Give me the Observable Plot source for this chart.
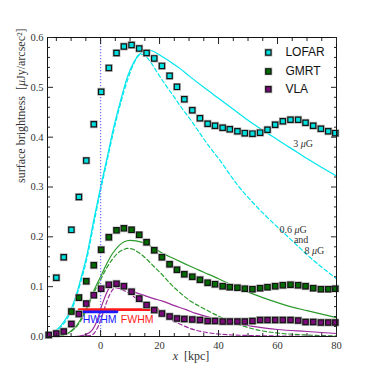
<!DOCTYPE html>
<html><head><meta charset="utf-8">
<script src="https://cdn.jsdelivr.net/npm/d3@7"></script>
<script src="https://cdn.jsdelivr.net/npm/@observablehq/plot@0.6"></script>
<style>body{margin:0;background:#fff} svg{display:block}</style>
</head><body><div id="chart"></div>
<script>
// ---- observed profiles (x in kpc) ----
const obsX = [-17.6,-15.0,-12.5,-9.9,-7.35,-4.85,-2.3,0.2,2.8,5.4,7.9,10.5,13.1,15.6,18.2,20.8,23.4,25.9,28.4,31.1,33.7,36.3,38.8,41.4,43.8,46.4,48.9,51.5,54.1,56.6,59.2,61.8,64.4,67.0,69.5,72.1,74.7,77.2,79.6];
const lofar = [null,0.118,0.159,0.214,0.280,0.353,0.426,0.491,0.539,0.569,0.582,0.585,0.578,0.569,0.558,0.543,0.523,0.501,0.476,0.454,0.438,0.427,0.423,0.419,0.416,0.412,0.408,0.407,0.409,0.415,0.425,0.432,0.435,0.435,0.429,0.423,0.417,0.412,0.408];
const gmrt = [null,null,null,0.050,0.078,0.111,0.143,0.174,0.199,0.213,0.217,0.214,0.204,0.189,0.173,0.159,0.145,0.134,0.125,0.120,0.114,0.108,0.105,0.101,0.099,0.098,0.096,0.095,0.097,0.099,0.101,0.103,0.104,0.103,0.101,0.097,0.095,0.095,0.096];
const vla = [0.003,0.006,0.010,0.025,0.045,0.066,0.083,0.096,0.104,0.106,0.101,0.090,0.076,0.063,0.053,0.046,0.040,0.036,0.035,0.034,0.033,0.031,0.031,0.030,0.030,0.030,0.030,0.031,0.033,0.033,0.033,0.033,0.033,0.032,0.029,0.029,0.028,0.028,0.028];

// ---- model curves ----
const cyanSolidX = [-18,-15.5,-13.6,-11.5,-9.6,-8,-6.8,-4.5,-2.3,0,2.3,4.5,6.8,9.1,11.3,13.5,15.8,18,20.3,24,27.1,30,35,40,45,50,55,60,65,70,75,80];
const cyanSolidY = [0.003,0.011,0.021,0.038,0.061,0.088,0.114,0.167,0.234,0.300,0.361,0.421,0.474,0.521,0.551,0.568,0.575,0.572,0.564,0.550,0.537,0.523,0.500,0.478,0.456,0.434,0.414,0.395,0.376,0.357,0.339,0.322];
const cyanDashX = [-18,-15.5,-13.6,-11.5,-9.6,-6.8,-4.5,-2.3,0,2.3,4.5,6.8,9.1,11.3,13,14.5,16,17.5,19.2,22,24.9,27.1,30.5,34,37,40.7,43.5,46.3,50.8,55,61,65,70.6,75,80];
const cyanDashY = [0.002,0.009,0.018,0.034,0.056,0.108,0.160,0.226,0.293,0.355,0.414,0.468,0.514,0.548,0.565,0.566,0.558,0.546,0.530,0.505,0.481,0.462,0.435,0.405,0.380,0.352,0.328,0.305,0.274,0.248,0.214,0.192,0.161,0.139,0.116];
const greenSolidX = [-14,-12,-10,-8,-6,-4,-2,0,2,4,6,8,10,12,15,18,21,25,30,35,40,45,50,55,60,65,70,75,80];
const greenSolidY = [0.001,0.004,0.011,0.023,0.042,0.068,0.096,0.120,0.145,0.166,0.181,0.190,0.193,0.192,0.187,0.178,0.167,0.156,0.142,0.129,0.116,0.102,0.089,0.078,0.068,0.059,0.052,0.045,0.038];
const greenDashX = [-14,-12,-10,-8,-6,-4,-2,0,2,4,6,8,9,11,13,15.3,18,20.9,24,27.1,30,35,40,45,50,55,60,70,80];
const greenDashY = [0.001,0.004,0.010,0.021,0.039,0.064,0.091,0.114,0.137,0.155,0.168,0.175,0.177,0.175,0.168,0.157,0.141,0.124,0.104,0.087,0.073,0.056,0.041,0.028,0.018,0.011,0.007,0.003,0.001];
const purpleSolidX = [-9,-7,-5,-3,-2,-1,0,1,2,3,4.5,6,8,10,12,15,18,21,25,29,32,36,40,45,51,60,70,80];
const purpleSolidY = [0,0.001,0.004,0.012,0.021,0.035,0.055,0.072,0.087,0.098,0.104,0.104,0.099,0.093,0.088,0.082,0.076,0.071,0.062,0.054,0.047,0.040,0.034,0.027,0.021,0.014,0.010,0.006];
const purpleDashX = [-7,-5,-3,-2,-1,0,1,2,3,4,5,6,8,9.6,12,15.3,18,20.9,23,26.5,30,35,40,50,60,80];
const purpleDashY = [0,0.001,0.003,0.008,0.018,0.033,0.050,0.068,0.083,0.093,0.098,0.097,0.092,0.087,0.077,0.064,0.053,0.043,0.036,0.026,0.017,0.009,0.005,0.002,0.001,0];

// ---- widths ----
const hwhmX = [-7.3, 5.6];
const fwhmX = [-7.3, 19.4];

// ---- ticks / labels ----
const xMajor = [0,20,40,60,80];
const xMinor = [-15,-10,-5,5,10,15,25,30,35,45,50,55,65,70,75];
const yMajor = [0,0.1,0.2,0.3,0.4,0.5,0.6];
const yMinor = [0.02,0.04,0.06,0.08,0.12,0.14,0.16,0.18,0.22,0.24,0.26,0.28,0.32,0.34,0.36,0.38,0.42,0.44,0.46,0.48,0.52,0.54,0.56,0.58];
const seriesNames = ["LOFAR","GMRT","VLA"];

const fillC = {LOFAR:"#00dede", GMRT:"#006c00", VLA:"#7a0a7a"};
const lineC = {LOFAR:"#00e6ee", GMRT:"#2d9a2d", VLA:"#9c2c9c"};
const serif = "'Liberation Serif','DejaVu Serif',serif";
const sans = "'Liberation Sans',Arial,sans-serif";

const pts = (xs, ys) => xs.map((x,i)=>({x, y: ys[i]})).filter(d => d.y != null);
const squares = (data, fill) => [
  Plot.dot(data, {x:"x", y:"y", symbol:"square", r:3.0, fill, stroke:"#b8b8b8", strokeWidth:2.6}),
  Plot.dot(data, {x:"x", y:"y", symbol:"square", r:3.0, fill, stroke:"#151515", strokeWidth:1.2})
];
const curve = (xs, ys, color, dashed) => Plot.line(pts(xs, ys), {x:"x", y:"y", stroke: color, strokeWidth:1.2, curve:"monotone-x", strokeDasharray: dashed ? "4,2.6" : null});

const legend = seriesNames.map((n,i) => ({name:n, x:56.9, y:[0.57,0.532,0.496][i]}));

const chart = Plot.plot({
  width:374, height:374,
  marginLeft:47, marginRight:38, marginTop:37, marginBottom:38,
  x:{domain:[-18,80]},
  y:{domain:[0,0.6]},
  style:{fontFamily: serif, fontSize:"10.5px", background:"white", color:"#222"},
  marks:[
    curve(cyanSolidX, cyanSolidY, lineC.LOFAR, false),
    curve(cyanDashX, cyanDashY, lineC.LOFAR, true),
    curve(greenSolidX, greenSolidY, lineC.GMRT, false),
    curve(greenDashX, greenDashY, lineC.GMRT, true),
    curve(purpleSolidX, purpleSolidY, lineC.VLA, false),
    curve(purpleDashX, purpleDashY, lineC.VLA, true),
    Plot.ruleX([0], {stroke:"#7777ff", strokeWidth:1.3, strokeDasharray:"1.2,1.8"}),
    Plot.line(fwhmX.map(x=>({x, y:0.054})), {x:"x", y:"y", stroke:"#ff1a1a", strokeWidth:2.6}),
    Plot.line(hwhmX.map(x=>({x, y:0.0495})), {x:"x", y:"y", stroke:"#1a1aff", strokeWidth:2.6}),
    ...squares(pts(obsX, lofar), fillC.LOFAR),
    ...squares(pts(obsX, gmrt), fillC.GMRT),
    ...squares(pts(obsX, vla), fillC.VLA),
    Plot.text(["HWHM"], {x:-0.3, y:0.033, fill:"#1a1aff", fontFamily:sans, fontSize:10.5}),
    Plot.text(["FWHM"], {x:12.4, y:0.033, fill:"#ff1a1a", fontFamily:sans, fontSize:10.5}),
    Plot.text(["3 μG"], {x:68.7, y:0.386, fontSize:10, fill:"#333"}),
    Plot.text(["0.6 μG"], {x:65.3, y:0.214, fontSize:10, fill:"#333"}),
    Plot.text(["and"], {x:68.0, y:0.194, fontSize:10, fill:"#333"}),
    Plot.text(["8 μG"], {x:72.5, y:0.171, fontSize:10, fill:"#333"}),
    // legend
    Plot.dot(legend, {x:"x", y:"y", symbol:"square", r:3.0, fill:d=>fillC[d.name], stroke:"#b8b8b8", strokeWidth:2.6}),
    Plot.dot(legend, {x:"x", y:"y", symbol:"square", r:3.0, fill:d=>fillC[d.name], stroke:"#151515", strokeWidth:1.2}),
    Plot.text(legend, {x:"x", y:"y", text:"name", dx:17, textAnchor:"start", fontFamily:sans, fontSize:12, fill:"#111"}),
    // axes
    Plot.frame({stroke:"#111", strokeWidth:1}),
    Plot.axisX({ticks:xMajor, tickSize:0, tickPadding:5, tickFormat:d=>d, label:null, fill:"#333"}),
    Plot.axisX({anchor:"bottom", ticks:xMajor, tickSize:-6, text:null, label:null}),
    Plot.axisX({anchor:"bottom", ticks:xMinor, tickSize:-3, text:null, label:null}),
    Plot.axisX({anchor:"top", ticks:xMajor, tickSize:-6, text:null, label:null}),
    Plot.axisX({anchor:"top", ticks:xMinor, tickSize:-3, text:null, label:null}),
    Plot.axisY({ticks:yMajor, tickSize:0, tickPadding:4, tickFormat:d3.format(".1f"), label:null, fill:"#333"}),
    Plot.axisY({anchor:"left", ticks:yMajor, tickSize:-6, text:null, label:null}),
    Plot.axisY({anchor:"left", ticks:yMinor, tickSize:-3, text:null, label:null}),
    Plot.axisY({anchor:"right", ticks:yMajor, tickSize:-6, text:null, label:null}),
    Plot.axisY({anchor:"right", ticks:yMinor, tickSize:-3, text:null, label:null}),
    Plot.text(["x [kpc]"], {frameAnchor:"bottom", dy:23, dx:-1, fontSize:12, fill:"#333"}),
    Plot.text(["surface brightness  [μJy/arcsec²]"], {frameAnchor:"left", rotate:-90, dx:-26, dy:-4, fontSize:12, fill:"#333"})
  ]
});
document.getElementById("chart").appendChild(chart);

// italic math glyphs
d3.select(chart).selectAll("text").each(function(){
  const t = d3.select(this);
  const s = t.text();
  if (s === "x [kpc]") {
    t.text(null);
    t.append("tspan").attr("font-style","italic").text("x");
    t.append("tspan").text("\u2002[kpc]");
  } else if (s.includes("μ")) {
    const parts = s.split("μ");
    t.text(null);
    t.append("tspan").text(parts[0]);
    t.append("tspan").attr("font-style","italic").text("μ");
    t.append("tspan").text(parts[1]);
  }
});
</script>
</body></html>
